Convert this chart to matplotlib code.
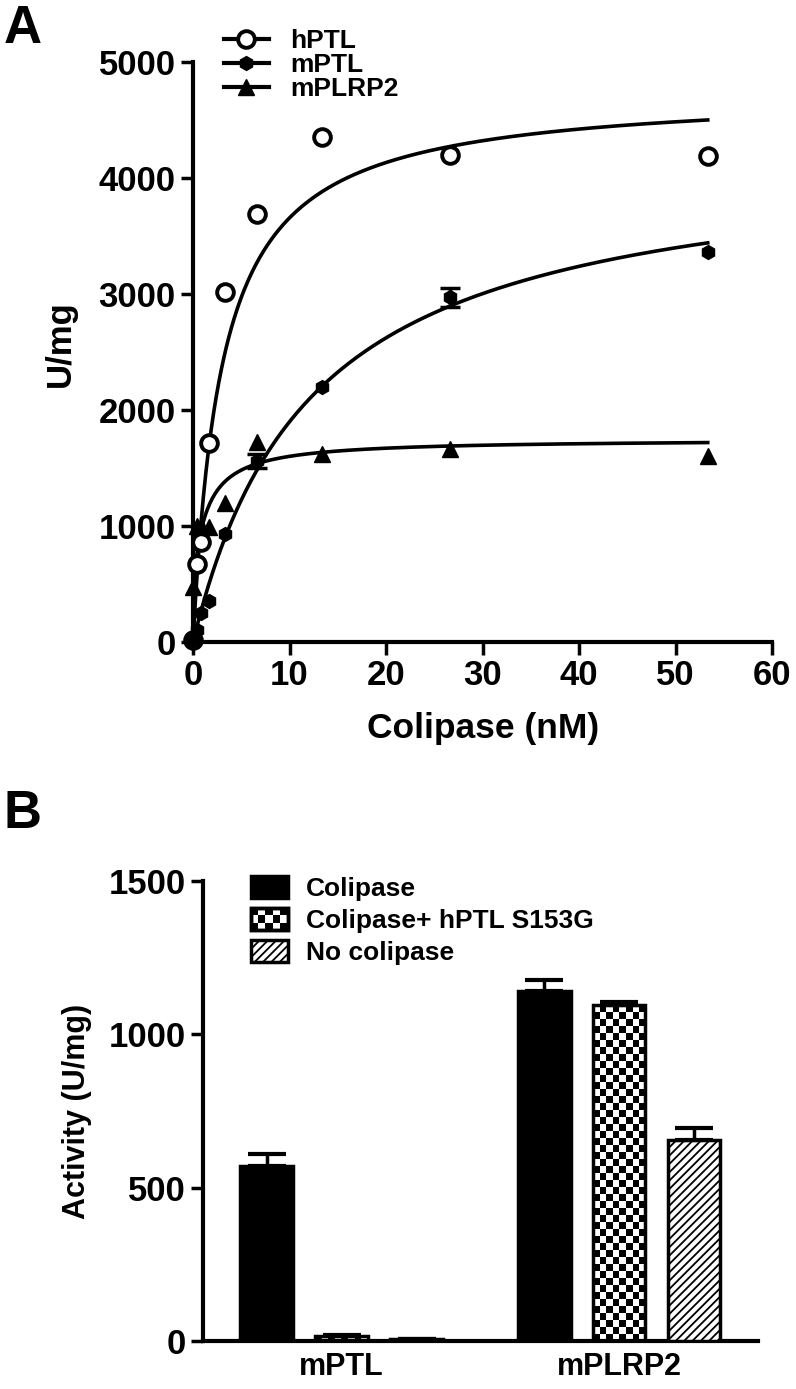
import numpy as np
import matplotlib
matplotlib.use("Agg")
import matplotlib.pyplot as plt
from matplotlib.patches import Rectangle, Patch
from matplotlib.legend_handler import HandlerBase
from matplotlib.lines import Line2D

plt.rcParams["font.family"] = ["Liberation Sans", "DejaVu Sans"]
plt.rcParams["font.weight"] = "bold"
plt.rcParams["hatch.linewidth"] = 1.3

# ---- panel A data ----
conc = [0, 0.42, 0.83, 1.67, 3.33, 6.67, 13.33, 26.67, 53.33]
hptl = [20, 670, 860, 1716, 3020, 3690, 4350, 4200, 4190]
mptl = [20, 100, 250, 350, 930, 1560, 2200, 2970, 3360]
mptl_err = [0, 0, 0, 0, 0, 60, 0, 80, 0]
mplrp2 = [470, 1000, 1000, 990, 1200, 1720, 1620, 1660, 1600]

# fitted curves: y0 + vmax * x / (k + x)
fit_hptl = dict(y0=0, vmax=4753, k=3.0)
fit_mptl = dict(y0=0, vmax=4234, k=12.3)
fit_mplrp2 = dict(y0=450, vmax=1300, k=1.3)

# ---- panel B data ----
groups = ["mPTL", "mPLRP2"]
colipase = [570, 1140]
colipase_err = [40, 37]
s153g = [15, 1095]
s153g_err = [3, 10]
no_colipase = [5, 655]
no_colipase_err = [2, 38]


def sat(x, y0, vmax, k):
    return y0 + vmax * x / (k + x)


fig = plt.figure(figsize=(7.96, 13.89), dpi=100)

# ================= panel A =================
ax = fig.add_axes([0.2425, 0.5378, 0.7275, 0.4176])
xs = np.linspace(0, conc[-1], 400)
lw = 2.6
ax.plot(xs, sat(xs, **fit_hptl), color="black", lw=lw, zorder=2)
ax.plot(xs, sat(xs, **fit_mptl), color="black", lw=lw, zorder=2)
ax.plot(xs, sat(xs, **fit_mplrp2), color="black", lw=lw, zorder=2)

ax.plot(conc, hptl, "o", ms=12, mfc="white", mec="black", mew=2.8,
        clip_on=False, zorder=4)
ax.plot(conc, mptl, "h", ms=10, color="black", clip_on=False, zorder=4)
ex = [c for c, e in zip(conc, mptl_err) if e > 0]
ey = [v for v, e in zip(mptl, mptl_err) if e > 0]
ee = [e for e in mptl_err if e > 0]
ax.errorbar(ex, ey, yerr=ee, fmt="none", ecolor="black",
            elinewidth=2.5, capsize=7, capthick=2.5, zorder=4)
ax.plot(conc, mplrp2, "^", ms=11, color="black", clip_on=False, zorder=4)

ax.set_xlim(0, 60)
ax.set_ylim(0, 5000)
ax.set_xticks(range(0, 61, 10))
ax.set_yticks(range(0, 5001, 1000))
ax.set_xlabel("Colipase (nM)", fontsize=25.5, fontweight="bold", labelpad=14)
ax.set_ylabel("U/mg", fontsize=25, fontweight="bold")
ax.yaxis.set_label_coords(-0.20, 0.515)
for s in ["top", "right"]:
    ax.spines[s].set_visible(False)
for s in ["left", "bottom"]:
    ax.spines[s].set_linewidth(3)
ax.tick_params(width=2.5, length=9, labelsize=25)

h1 = Line2D([], [], color="black", lw=3, marker="o", ms=12, mfc="white",
            mec="black", mew=2.8)
h2 = Line2D([], [], color="black", lw=3, marker="h", ms=10)
h3 = Line2D([], [], color="black", lw=3, marker="^", ms=11)
ax.legend([h1, h2, h3], ["hPTL", "mPTL", "mPLRP2"], loc="upper left",
          bbox_to_anchor=(0.035, 1.075), frameon=False, fontsize=19,
          handlelength=1.7, handletextpad=0.8, labelspacing=0.0,
          borderaxespad=0)

fig.text(0.005, 0.997, "A", fontsize=38, fontweight="bold", va="top")

# ================= panel B =================
bx = fig.add_axes([0.255, 0.0346, 0.697, 0.3311])
pos = np.arange(len(groups))
w = 0.19
step = 0.27
bx.set_xlim(-0.5, 1.5)
bx.set_ylim(0, 1500)

b1 = bx.bar(pos - step, colipase, w, color="black", edgecolor="black",
            lw=2.5, zorder=3)
b2 = bx.bar(pos, s153g, w, facecolor="none", edgecolor="black", lw=2.5,
            zorder=3)
b3 = bx.bar(pos + step, no_colipase, w, facecolor="white", edgecolor="black",
            lw=2.5, hatch="////", zorder=3)

zeros = [0] * len(groups)
for p, v, e in [(pos - step, colipase, colipase_err), (pos, s153g, s153g_err),
                (pos + step, no_colipase, no_colipase_err)]:
    bx.errorbar(p, v, yerr=[zeros, e], fmt="none", ecolor="black",
                elinewidth=2.5, capsize=14, capthick=3, zorder=4)

# checkerboard fill for the S153G bars
fig.canvas.draw()
bb = bx.get_window_extent()
px_x = bb.width / (bx.get_xlim()[1] - bx.get_xlim()[0])
px_y = bb.height / (bx.get_ylim()[1] - bx.get_ylim()[0])
cell = 7.0
for bar in b2:
    x0, bw, bh = bar.get_x(), bar.get_width(), bar.get_height()
    nx = max(1, int(round(bw * px_x / cell)))
    ny = max(1, int(round(bh * px_y / cell)))
    grid = (np.add.outer(np.arange(ny), np.arange(nx)) % 2).astype(float)
    im = bx.imshow(grid, extent=(x0, x0 + bw, 0, bh), origin="lower",
                   cmap="gray", vmin=0, vmax=1, interpolation="nearest",
                   aspect="auto", zorder=2)
    im.set_clip_path(bar)
bx.set_xlim(-0.5, 1.5)
bx.set_ylim(0, 1500)

bx.set_xticks(pos)
bx.set_xticklabels(groups)
bx.set_yticks([0, 500, 1000, 1500])
bx.set_ylabel("Activity (U/mg)", fontsize=22, fontweight="bold", labelpad=12)
for s in ["top", "right"]:
    bx.spines[s].set_visible(False)
for s in ["left", "bottom"]:
    bx.spines[s].set_linewidth(3)
bx.tick_params(axis="y", width=2.5, length=9, labelsize=25)
bx.tick_params(axis="x", length=0, labelsize=22, pad=8)


class HandlerChecker(HandlerBase):
    def create_artists(self, legend, orig_handle, xdescent, ydescent,
                       width, height, fontsize, trans):
        arts = [Rectangle((-xdescent, -ydescent), width, height,
                          facecolor="white", edgecolor="black", lw=2.5,
                          transform=trans)]
        n = 5
        m = 3
        cw = width / n
        ch = height / m
        for i in range(n):
            for j in range(m):
                if (i + j) % 2 == 0:
                    arts.append(Rectangle((-xdescent + i * cw, -ydescent + j * ch),
                                          cw, ch, facecolor="black",
                                          edgecolor="none", transform=trans))
        arts.append(Rectangle((-xdescent, -ydescent), width, height,
                              facecolor="none", edgecolor="black", lw=2.5,
                              transform=trans))
        return arts


class CheckerKey:
    pass


ck = CheckerKey()
p1 = Patch(facecolor="black", edgecolor="black", lw=2.5)
p3 = Patch(facecolor="white", edgecolor="black", lw=2.5, hatch="////")
bx.legend([p1, ck, p3], ["Colipase", "Colipase+ hPTL S153G", "No colipase"],
          handler_map={CheckerKey: HandlerChecker()}, loc="upper left",
          bbox_to_anchor=(0.067, 1.033), frameon=False, fontsize=19,
          handlelength=1.4, handleheight=0.9, handletextpad=0.7,
          labelspacing=0.25, borderaxespad=0)

fig.text(0.005, 0.432, "B", fontsize=38, fontweight="bold", va="top")

fig.savefig("out.png", dpi=100)
